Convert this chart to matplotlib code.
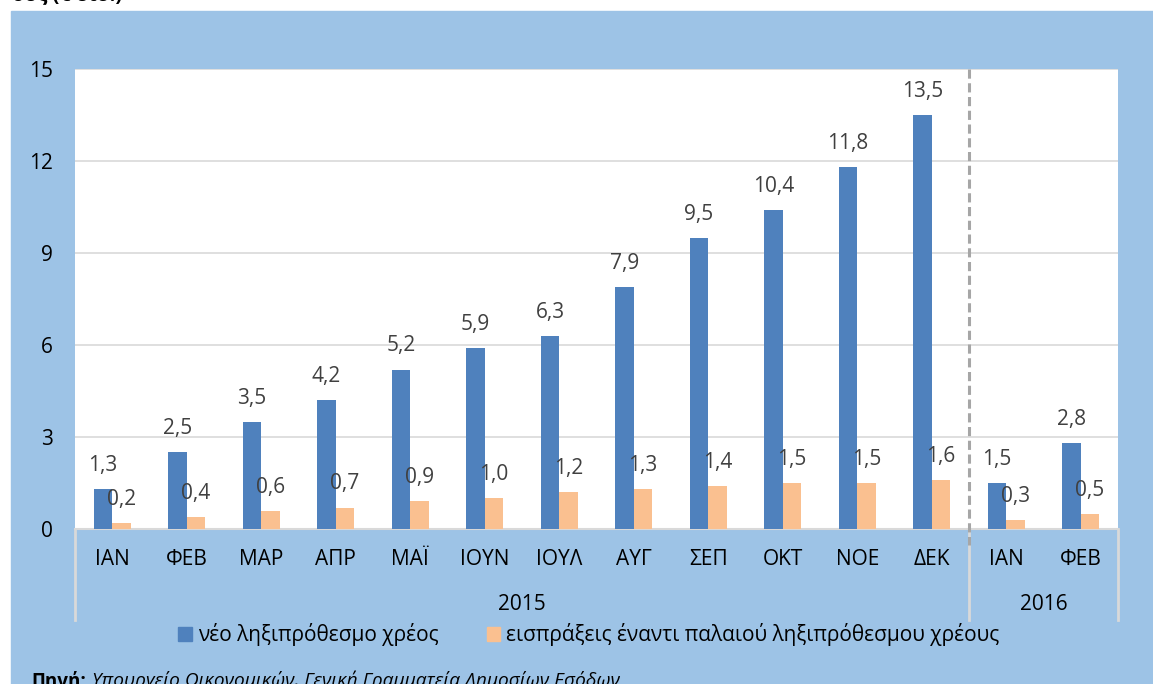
import matplotlib
matplotlib.use('Agg')
import matplotlib.pyplot as plt
import matplotlib.transforms as mtransforms
from matplotlib.patches import Rectangle, Patch
import numpy as np

plt.rcParams['font.family'] = ['Open Sans', 'DejaVu Sans']

# ── Data ──────────────────────────────────────────────────────────────────
months = ['ΙΑΝ', 'ΦΕΒ', 'ΜΑΡ', 'ΑΠΡ', 'ΜΑΪ', 'ΙΟΥΝ', 'ΙΟΥΛ', 'ΑΥΓ',
          'ΣΕΠ', 'ΟΚΤ', 'ΝΟΕ', 'ΔΕΚ', 'ΙΑΝ', 'ΦΕΒ']
years = ['2015', '2016']
months_per_year = [12, 2]
new_debt = [1.3, 2.5, 3.5, 4.2, 5.2, 5.9, 6.3, 7.9, 9.5, 10.4, 11.8, 13.5, 1.5, 2.8]
collections = [0.2, 0.4, 0.6, 0.7, 0.9, 1.0, 1.2, 1.3, 1.4, 1.5, 1.5, 1.6, 0.3, 0.5]
series_names = ['νέο ληξιπρόθεσμο χρέος',
                'εισπράξεις έναντι παλαιού ληξιπρόθεσμου χρέους']
y_ticks = [0, 3, 6, 9, 12, 15]

BG = '#9DC3E6'
C_BLUE = '#4F81BD'
C_ORANGE = '#FAC090'
GRID = '#D9D9D9'
FS = 15

W, H = 1153, 684
fig = plt.figure(figsize=(W / 100, H / 100), dpi=100)
fig.patch.set_facecolor('white')
fig.patches.append(Rectangle((11 / W, 0), 1 - 11 / W, 1 - 11 / H,
                             transform=fig.transFigure, color=BG, zorder=-10))

ax = fig.add_axes([75 / W, 1 - 529 / H, (1118 - 75) / W, (529 - 69) / H])
ax.set_facecolor('white')

x = np.arange(len(months))
bw = 0.245
ax.bar(x - bw / 2, new_debt, bw, color=C_BLUE, zorder=3)
ax.bar(x + bw / 2, collections, bw, color=C_ORANGE, zorder=3)

for xi, v in zip(x, new_debt):
    ax.annotate(f'{v:.1f}'.replace('.', ','), (xi - bw / 2, v), xytext=(0, 13),
                textcoords='offset points', ha='center', va='baseline',
                fontsize=FS, color='#404040')
for xi, v in zip(x, collections):
    ax.annotate(f'{v:.1f}'.replace('.', ','), (xi + bw / 2, v), xytext=(0, 13),
                textcoords='offset points', ha='center', va='baseline',
                fontsize=FS, color='#404040')

ax.set_xlim(-0.5, len(months) - 0.5)
ax.set_ylim(0, 15)
ax.set_yticks(y_ticks)
ax.set_yticklabels([str(t) for t in y_ticks], fontsize=FS)
ax.tick_params(axis='y', length=0, pad=16)
ax.set_xticks([])
ax.grid(axis='y', color=GRID, lw=1.2, zorder=0)
for s in ['left', 'right', 'top']:
    ax.spines[s].set_visible(False)
ax.spines['bottom'].set_color(GRID)
ax.spines['bottom'].set_linewidth(1.5)

# multi-level category axis
trans = mtransforms.blended_transform_factory(ax.transData, ax.transAxes)
for xi, m in zip(x, months):
    ax.text(xi, -0.067, m, transform=trans, ha='center', va='center', fontsize=FS)
edges = [-0.5]
for n in months_per_year:
    edges.append(edges[-1] + n)
for i, yr in enumerate(years):
    ax.text((edges[i] + edges[i + 1]) / 2, -0.165, yr, transform=trans,
            ha='center', va='center', fontsize=FS)
for e in edges:
    ax.plot([e, e], [0, -0.198], transform=trans, color=GRID, lw=2, clip_on=False)

# dashed separator between years
ax.plot([edges[1], edges[1]], [1, -0.035], transform=trans, color='#A6A6A6',
        lw=2.2, ls=(0, (3, 1.5)), clip_on=False, zorder=4)

handles = [Patch(color=C_BLUE), Patch(color=C_ORANGE)]
fig.legend(handles, series_names, loc='center', bbox_to_anchor=(589 / W, 1 - 635 / H),
           ncol=2, frameon=False, fontsize=15, handlelength=0.65, handleheight=0.65,
           handletextpad=0.3, columnspacing=2.3)

fig.text(12 / W, 1 - 5 / H, 'ους (€ δισ.)', fontsize=14.5, fontweight='bold',
         ha='left', va='bottom')
fig.text(31 / W, 1 - 671 / H, 'Πηγή:', fontsize=13.5, fontweight='bold',
         ha='left', va='top')
fig.text(92 / W, 1 - 671 / H, 'Υπουργείο Οικονομικών, Γενική Γραμματεία Δημοσίων Εσόδων',
         fontsize=13.8, style='italic', ha='left', va='top')

plt.savefig('out.png', dpi=100)
